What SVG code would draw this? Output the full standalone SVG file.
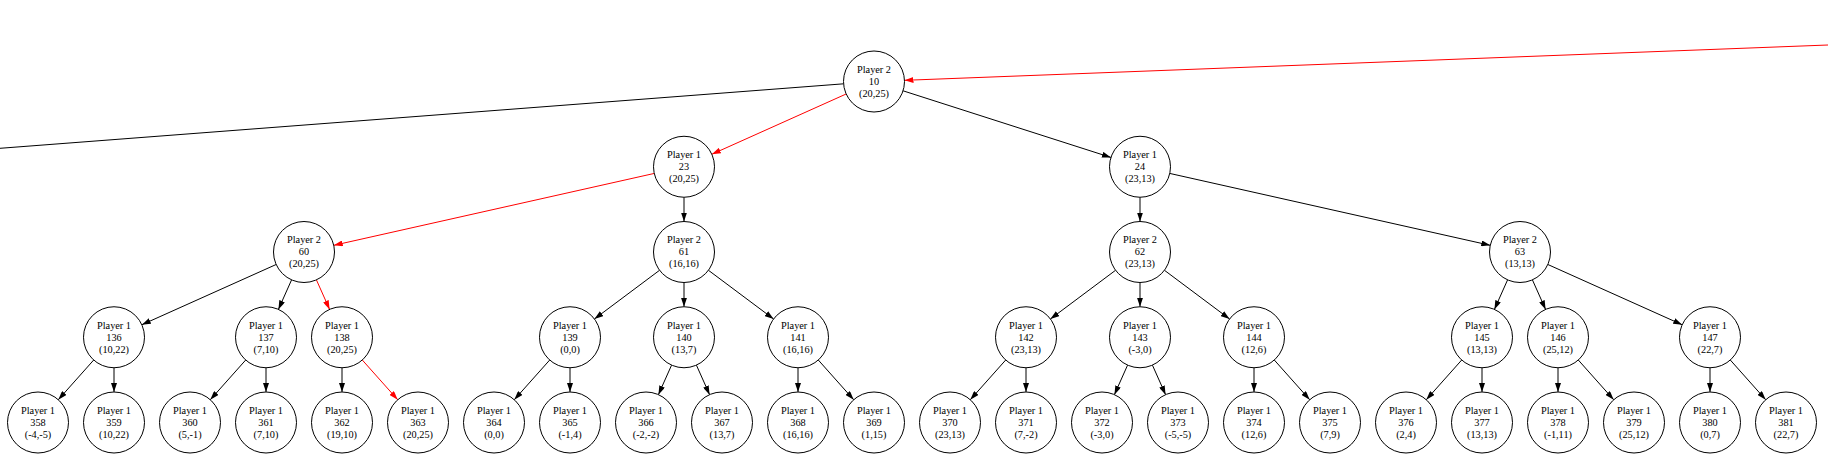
<svg xmlns="http://www.w3.org/2000/svg" width="1828" height="454" viewBox="0 0 1828 454">
<style>
.node circle{fill:#fff;stroke:#000;stroke-width:1}
.node text{font-family:"Liberation Serif","Times New Roman",serif;font-size:10.3px;text-anchor:middle;fill:#000}
.e{stroke:#000;stroke-width:1;fill:none}
.ea{marker-end:url(#ab)}
.r{stroke:#f00}
.ra{marker-end:url(#ar)}
</style>
<defs>
<marker id="ab" markerUnits="userSpaceOnUse" markerWidth="9" markerHeight="6" viewBox="0 0 9 6" refX="9" refY="3" orient="auto"><path d="M0,0 L9,3 L0,6 z" fill="#000"/></marker>
<marker id="ar" markerUnits="userSpaceOnUse" markerWidth="9" markerHeight="6" viewBox="0 0 9 6" refX="9" refY="3" orient="auto"><path d="M0,0 L9,3 L0,6 z" fill="#f00"/></marker>
</defs>
<rect width="1828" height="454" fill="#fff"/>
<g id="edges">
<line class="e" x1="0" y1="148.3" x2="843.59" y2="83.82"/>
<line class="e r ra" x1="1828" y1="45" x2="904.48" y2="80.33"/>
<line class="e r ra" x1="846.17" y1="93.99" x2="711.83" y2="154.26"/>
<line class="e ea" x1="903.04" y1="90.81" x2="1110.96" y2="157.44"/>
<line class="e r ra" x1="654.24" y1="173.43" x2="333.76" y2="245.32"/>
<line class="e ea" x1="684" y1="197.25" x2="684" y2="221.5"/>
<line class="e ea" x1="1140" y1="197.25" x2="1140" y2="221.5"/>
<line class="e ea" x1="1169.76" y1="173.43" x2="1490.24" y2="245.32"/>
<line class="e ea" x1="276.17" y1="264.49" x2="141.83" y2="324.76"/>
<line class="e ea" x1="291.58" y1="279.86" x2="278.42" y2="309.39"/>
<line class="e r ra" x1="316.42" y1="279.86" x2="329.58" y2="309.39"/>
<line class="e ea" x1="659.57" y1="270.27" x2="594.43" y2="318.98"/>
<line class="e ea" x1="684" y1="282.5" x2="684" y2="306.75"/>
<line class="e ea" x1="708.43" y1="270.27" x2="773.57" y2="318.98"/>
<line class="e ea" x1="1115.57" y1="270.27" x2="1050.43" y2="318.98"/>
<line class="e ea" x1="1140" y1="282.5" x2="1140" y2="306.75"/>
<line class="e ea" x1="1164.43" y1="270.27" x2="1229.57" y2="318.98"/>
<line class="e ea" x1="1507.58" y1="279.86" x2="1494.42" y2="309.39"/>
<line class="e ea" x1="1532.42" y1="279.86" x2="1545.58" y2="309.39"/>
<line class="e ea" x1="1547.83" y1="264.49" x2="1682.17" y2="324.76"/>
<line class="e ea" x1="93.7" y1="360.02" x2="58.3" y2="399.73"/>
<line class="e ea" x1="114" y1="367.75" x2="114" y2="392"/>
<line class="e ea" x1="245.7" y1="360.02" x2="210.3" y2="399.73"/>
<line class="e ea" x1="266" y1="367.75" x2="266" y2="392"/>
<line class="e ea" x1="342" y1="367.75" x2="342" y2="392"/>
<line class="e r ra" x1="362.3" y1="360.02" x2="397.7" y2="399.73"/>
<line class="e ea" x1="549.7" y1="360.02" x2="514.3" y2="399.73"/>
<line class="e ea" x1="570" y1="367.75" x2="570" y2="392"/>
<line class="e ea" x1="671.58" y1="365.11" x2="658.42" y2="394.64"/>
<line class="e ea" x1="696.42" y1="365.11" x2="709.58" y2="394.64"/>
<line class="e ea" x1="798" y1="367.75" x2="798" y2="392"/>
<line class="e ea" x1="818.3" y1="360.02" x2="853.7" y2="399.73"/>
<line class="e ea" x1="1005.7" y1="360.02" x2="970.3" y2="399.73"/>
<line class="e ea" x1="1026" y1="367.75" x2="1026" y2="392"/>
<line class="e ea" x1="1127.58" y1="365.11" x2="1114.42" y2="394.64"/>
<line class="e ea" x1="1152.42" y1="365.11" x2="1165.58" y2="394.64"/>
<line class="e ea" x1="1254" y1="367.75" x2="1254" y2="392"/>
<line class="e ea" x1="1274.3" y1="360.02" x2="1309.7" y2="399.73"/>
<line class="e ea" x1="1461.7" y1="360.02" x2="1426.3" y2="399.73"/>
<line class="e ea" x1="1482" y1="367.75" x2="1482" y2="392"/>
<line class="e ea" x1="1558" y1="367.75" x2="1558" y2="392"/>
<line class="e ea" x1="1578.3" y1="360.02" x2="1613.7" y2="399.73"/>
<line class="e ea" x1="1710" y1="367.75" x2="1710" y2="392"/>
<line class="e ea" x1="1730.3" y1="360.02" x2="1765.7" y2="399.73"/>
</g>
<g id="n10" class="node" transform="translate(874,81.5)"><circle r="30.5"/><text><tspan x="0" y="-8.6">Player 2</tspan><tspan x="0" y="3.4">10</tspan><tspan x="0" y="15.4">(20,25)</tspan></text></g>
<g id="n23" class="node" transform="translate(684,166.75)"><circle r="30.5"/><text><tspan x="0" y="-8.6">Player 1</tspan><tspan x="0" y="3.4">23</tspan><tspan x="0" y="15.4">(20,25)</tspan></text></g>
<g id="n24" class="node" transform="translate(1140,166.75)"><circle r="30.5"/><text><tspan x="0" y="-8.6">Player 1</tspan><tspan x="0" y="3.4">24</tspan><tspan x="0" y="15.4">(23,13)</tspan></text></g>
<g id="n60" class="node" transform="translate(304,252)"><circle r="30.5"/><text><tspan x="0" y="-8.6">Player 2</tspan><tspan x="0" y="3.4">60</tspan><tspan x="0" y="15.4">(20,25)</tspan></text></g>
<g id="n61" class="node" transform="translate(684,252)"><circle r="30.5"/><text><tspan x="0" y="-8.6">Player 2</tspan><tspan x="0" y="3.4">61</tspan><tspan x="0" y="15.4">(16,16)</tspan></text></g>
<g id="n62" class="node" transform="translate(1140,252)"><circle r="30.5"/><text><tspan x="0" y="-8.6">Player 2</tspan><tspan x="0" y="3.4">62</tspan><tspan x="0" y="15.4">(23,13)</tspan></text></g>
<g id="n63" class="node" transform="translate(1520,252)"><circle r="30.5"/><text><tspan x="0" y="-8.6">Player 2</tspan><tspan x="0" y="3.4">63</tspan><tspan x="0" y="15.4">(13,13)</tspan></text></g>
<g id="n136" class="node" transform="translate(114,337.25)"><circle r="30.5"/><text><tspan x="0" y="-8.6">Player 1</tspan><tspan x="0" y="3.4">136</tspan><tspan x="0" y="15.4">(10,22)</tspan></text></g>
<g id="n137" class="node" transform="translate(266,337.25)"><circle r="30.5"/><text><tspan x="0" y="-8.6">Player 1</tspan><tspan x="0" y="3.4">137</tspan><tspan x="0" y="15.4">(7,10)</tspan></text></g>
<g id="n138" class="node" transform="translate(342,337.25)"><circle r="30.5"/><text><tspan x="0" y="-8.6">Player 1</tspan><tspan x="0" y="3.4">138</tspan><tspan x="0" y="15.4">(20,25)</tspan></text></g>
<g id="n139" class="node" transform="translate(570,337.25)"><circle r="30.5"/><text><tspan x="0" y="-8.6">Player 1</tspan><tspan x="0" y="3.4">139</tspan><tspan x="0" y="15.4">(0,0)</tspan></text></g>
<g id="n140" class="node" transform="translate(684,337.25)"><circle r="30.5"/><text><tspan x="0" y="-8.6">Player 1</tspan><tspan x="0" y="3.4">140</tspan><tspan x="0" y="15.4">(13,7)</tspan></text></g>
<g id="n141" class="node" transform="translate(798,337.25)"><circle r="30.5"/><text><tspan x="0" y="-8.6">Player 1</tspan><tspan x="0" y="3.4">141</tspan><tspan x="0" y="15.4">(16,16)</tspan></text></g>
<g id="n142" class="node" transform="translate(1026,337.25)"><circle r="30.5"/><text><tspan x="0" y="-8.6">Player 1</tspan><tspan x="0" y="3.4">142</tspan><tspan x="0" y="15.4">(23,13)</tspan></text></g>
<g id="n143" class="node" transform="translate(1140,337.25)"><circle r="30.5"/><text><tspan x="0" y="-8.6">Player 1</tspan><tspan x="0" y="3.4">143</tspan><tspan x="0" y="15.4">(-3,0)</tspan></text></g>
<g id="n144" class="node" transform="translate(1254,337.25)"><circle r="30.5"/><text><tspan x="0" y="-8.6">Player 1</tspan><tspan x="0" y="3.4">144</tspan><tspan x="0" y="15.4">(12,6)</tspan></text></g>
<g id="n145" class="node" transform="translate(1482,337.25)"><circle r="30.5"/><text><tspan x="0" y="-8.6">Player 1</tspan><tspan x="0" y="3.4">145</tspan><tspan x="0" y="15.4">(13,13)</tspan></text></g>
<g id="n146" class="node" transform="translate(1558,337.25)"><circle r="30.5"/><text><tspan x="0" y="-8.6">Player 1</tspan><tspan x="0" y="3.4">146</tspan><tspan x="0" y="15.4">(25,12)</tspan></text></g>
<g id="n147" class="node" transform="translate(1710,337.25)"><circle r="30.5"/><text><tspan x="0" y="-8.6">Player 1</tspan><tspan x="0" y="3.4">147</tspan><tspan x="0" y="15.4">(22,7)</tspan></text></g>
<g id="n358" class="node" transform="translate(38,422.5)"><circle r="30.5"/><text><tspan x="0" y="-8.6">Player 1</tspan><tspan x="0" y="3.4">358</tspan><tspan x="0" y="15.4">(-4,-5)</tspan></text></g>
<g id="n359" class="node" transform="translate(114,422.5)"><circle r="30.5"/><text><tspan x="0" y="-8.6">Player 1</tspan><tspan x="0" y="3.4">359</tspan><tspan x="0" y="15.4">(10,22)</tspan></text></g>
<g id="n360" class="node" transform="translate(190,422.5)"><circle r="30.5"/><text><tspan x="0" y="-8.6">Player 1</tspan><tspan x="0" y="3.4">360</tspan><tspan x="0" y="15.4">(5,-1)</tspan></text></g>
<g id="n361" class="node" transform="translate(266,422.5)"><circle r="30.5"/><text><tspan x="0" y="-8.6">Player 1</tspan><tspan x="0" y="3.4">361</tspan><tspan x="0" y="15.4">(7,10)</tspan></text></g>
<g id="n362" class="node" transform="translate(342,422.5)"><circle r="30.5"/><text><tspan x="0" y="-8.6">Player 1</tspan><tspan x="0" y="3.4">362</tspan><tspan x="0" y="15.4">(19,10)</tspan></text></g>
<g id="n363" class="node" transform="translate(418,422.5)"><circle r="30.5"/><text><tspan x="0" y="-8.6">Player 1</tspan><tspan x="0" y="3.4">363</tspan><tspan x="0" y="15.4">(20,25)</tspan></text></g>
<g id="n364" class="node" transform="translate(494,422.5)"><circle r="30.5"/><text><tspan x="0" y="-8.6">Player 1</tspan><tspan x="0" y="3.4">364</tspan><tspan x="0" y="15.4">(0,0)</tspan></text></g>
<g id="n365" class="node" transform="translate(570,422.5)"><circle r="30.5"/><text><tspan x="0" y="-8.6">Player 1</tspan><tspan x="0" y="3.4">365</tspan><tspan x="0" y="15.4">(-1,4)</tspan></text></g>
<g id="n366" class="node" transform="translate(646,422.5)"><circle r="30.5"/><text><tspan x="0" y="-8.6">Player 1</tspan><tspan x="0" y="3.4">366</tspan><tspan x="0" y="15.4">(-2,-2)</tspan></text></g>
<g id="n367" class="node" transform="translate(722,422.5)"><circle r="30.5"/><text><tspan x="0" y="-8.6">Player 1</tspan><tspan x="0" y="3.4">367</tspan><tspan x="0" y="15.4">(13,7)</tspan></text></g>
<g id="n368" class="node" transform="translate(798,422.5)"><circle r="30.5"/><text><tspan x="0" y="-8.6">Player 1</tspan><tspan x="0" y="3.4">368</tspan><tspan x="0" y="15.4">(16,16)</tspan></text></g>
<g id="n369" class="node" transform="translate(874,422.5)"><circle r="30.5"/><text><tspan x="0" y="-8.6">Player 1</tspan><tspan x="0" y="3.4">369</tspan><tspan x="0" y="15.4">(1,15)</tspan></text></g>
<g id="n370" class="node" transform="translate(950,422.5)"><circle r="30.5"/><text><tspan x="0" y="-8.6">Player 1</tspan><tspan x="0" y="3.4">370</tspan><tspan x="0" y="15.4">(23,13)</tspan></text></g>
<g id="n371" class="node" transform="translate(1026,422.5)"><circle r="30.5"/><text><tspan x="0" y="-8.6">Player 1</tspan><tspan x="0" y="3.4">371</tspan><tspan x="0" y="15.4">(7,-2)</tspan></text></g>
<g id="n372" class="node" transform="translate(1102,422.5)"><circle r="30.5"/><text><tspan x="0" y="-8.6">Player 1</tspan><tspan x="0" y="3.4">372</tspan><tspan x="0" y="15.4">(-3,0)</tspan></text></g>
<g id="n373" class="node" transform="translate(1178,422.5)"><circle r="30.5"/><text><tspan x="0" y="-8.6">Player 1</tspan><tspan x="0" y="3.4">373</tspan><tspan x="0" y="15.4">(-5,-5)</tspan></text></g>
<g id="n374" class="node" transform="translate(1254,422.5)"><circle r="30.5"/><text><tspan x="0" y="-8.6">Player 1</tspan><tspan x="0" y="3.4">374</tspan><tspan x="0" y="15.4">(12,6)</tspan></text></g>
<g id="n375" class="node" transform="translate(1330,422.5)"><circle r="30.5"/><text><tspan x="0" y="-8.6">Player 1</tspan><tspan x="0" y="3.4">375</tspan><tspan x="0" y="15.4">(7,9)</tspan></text></g>
<g id="n376" class="node" transform="translate(1406,422.5)"><circle r="30.5"/><text><tspan x="0" y="-8.6">Player 1</tspan><tspan x="0" y="3.4">376</tspan><tspan x="0" y="15.4">(2,4)</tspan></text></g>
<g id="n377" class="node" transform="translate(1482,422.5)"><circle r="30.5"/><text><tspan x="0" y="-8.6">Player 1</tspan><tspan x="0" y="3.4">377</tspan><tspan x="0" y="15.4">(13,13)</tspan></text></g>
<g id="n378" class="node" transform="translate(1558,422.5)"><circle r="30.5"/><text><tspan x="0" y="-8.6">Player 1</tspan><tspan x="0" y="3.4">378</tspan><tspan x="0" y="15.4">(-1,11)</tspan></text></g>
<g id="n379" class="node" transform="translate(1634,422.5)"><circle r="30.5"/><text><tspan x="0" y="-8.6">Player 1</tspan><tspan x="0" y="3.4">379</tspan><tspan x="0" y="15.4">(25,12)</tspan></text></g>
<g id="n380" class="node" transform="translate(1710,422.5)"><circle r="30.5"/><text><tspan x="0" y="-8.6">Player 1</tspan><tspan x="0" y="3.4">380</tspan><tspan x="0" y="15.4">(0,7)</tspan></text></g>
<g id="n381" class="node" transform="translate(1786,422.5)"><circle r="30.5"/><text><tspan x="0" y="-8.6">Player 1</tspan><tspan x="0" y="3.4">381</tspan><tspan x="0" y="15.4">(22,7)</tspan></text></g>
</svg>
